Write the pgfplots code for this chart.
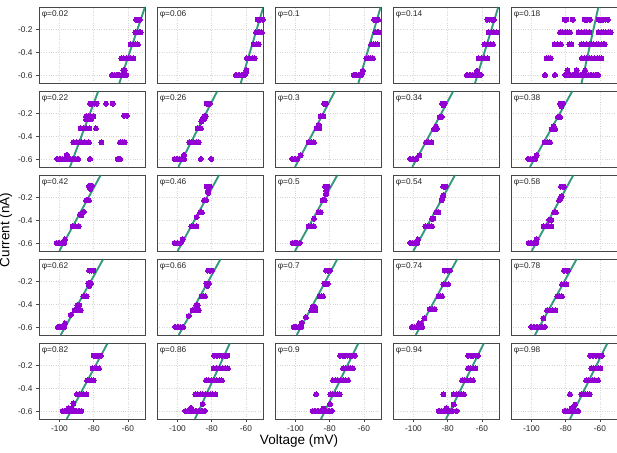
\documentclass[border=0pt]{standalone}
\usepackage{fontspec}
\setmainfont{Liberation Sans}
\usepackage{pgfplots}
\pgfplotsset{compat=1.18}
\definecolor{dotpurple}{RGB}{146,0,212}
\definecolor{fitgreen}{RGB}{16,136,104}
\pgfplotsset{
  panel/.style={
    width=106pt, height=76pt, scale only axis,
    anchor=north west,
    xmin=-112, xmax=-50, ymin=-0.665, ymax=-0.005,
    xtick={-100,-80,-60}, ytick={-0.6,-0.4,-0.2},
    xticklabels={}, yticklabels={},
    xtick pos=lower, ytick pos=left,
    tick align=outside, major tick length=3pt,
    xtick style={draw=none}, ytick style={draw=none},
    grid=major, grid style={dotted, color=black!16, line width=0.7pt},
    axis line style={color=black!72, line width=0.9pt},
    tick label style={font=\fontsize{8.3}{9}\selectfont, text=black!85},
  },
  leftcol/.style={yticklabels={-0.6,-0.4,-0.2}, ytick style={draw=black!72, line width=0.6pt}},
  bottomrow/.style={xticklabels={-100,-80,-60}, xtick style={draw=black!72, line width=0.6pt}},
  dots/.style={only marks, color=dotpurple, mark=*, mark size=2.5pt, mark options={draw=dotpurple, fill=dotpurple, line width=0pt}},
  fitline/.style={no marks, color=fitgreen, line width=1.9pt, opacity=0.85},
}
\newcommand{\panel}[6]{%
\begin{axis}[panel, at={(39pt+118pt*#1, 445pt-84pt*#2)}, #4]
\addplot[dots] coordinates {#5};
\addplot[fitline] coordinates {#6};
\node[anchor=north west, inner sep=0pt, font=\fontsize{8.3}{9}\selectfont, text=black!85] at (rel axis cs:0.025,0.95) {φ=#3};
\end{axis}}
\begin{document}
\begin{tikzpicture}
\useasboundingbox (0pt,0pt) rectangle (617pt,452pt);
% ---------------- row 0
\panel{0}{0}{0.02}{leftcol}{
(-55.1,-0.115)(-54.1,-0.115)(-53.1,-0.115)
(-55.6,-0.225)(-54.6,-0.225)(-53.5,-0.225)(-52.5,-0.225)
(-58.4,-0.33)(-57,-0.33)(-55.5,-0.33)(-54.1,-0.33)
(-63.8,-0.45)(-62.4,-0.45)(-61,-0.45)(-59.6,-0.45)(-58.2,-0.45)(-56.8,-0.45)
(-69.3,-0.595)(-67.9,-0.595)(-66.5,-0.595)(-65.1,-0.595)(-63.7,-0.595)(-62.3,-0.595)(-60.9,-0.595)
(-62.7,-0.555)(-61.9,-0.555)(-62.3,-0.575)
}{(-50,-0.005)(-65,-0.665)}
\panel{1}{0}{0.06}{}{
(-53.1,-0.115)(-51.6,-0.115)(-50.2,-0.115)
(-54.1,-0.225)(-52.9,-0.225)(-51.8,-0.225)(-50.6,-0.225)
(-55.5,-0.33)(-54,-0.33)(-52.5,-0.33)
(-59.4,-0.45)(-57.9,-0.45)(-56.4,-0.45)(-54.9,-0.45)
(-65.8,-0.595)(-64.1,-0.595)(-62.4,-0.595)(-60.7,-0.595)
(-59.7,-0.555)(-60,-0.575)
}{(-49.8,-0.005)(-63,-0.665)}
\panel{2}{0}{0.1}{}{
(-53.9,-0.115)(-52.8,-0.115)(-51.7,-0.115)
(-53.3,-0.225)(-52.3,-0.225)(-51.4,-0.225)
(-55.8,-0.33)(-54.6,-0.33)(-53.3,-0.33)(-52.1,-0.33)
(-58.6,-0.45)(-57.3,-0.45)(-56,-0.45)(-54.7,-0.45)
(-66,-0.595)(-64.5,-0.595)(-63,-0.595)(-61.5,-0.595)
(-60.7,-0.56)(-61,-0.575)
}{(-50.2,-0.005)(-63.2,-0.665)}
\panel{3}{0}{0.14}{}{
(-56.8,-0.115)(-55.5,-0.115)(-54.2,-0.115)(-52.9,-0.115)
(-56,-0.225)(-54.5,-0.225)(-53,-0.225)(-51.5,-0.225)
(-58.6,-0.33)(-56.9,-0.33)(-55.2,-0.33)(-53.5,-0.33)
(-61.9,-0.45)(-60.2,-0.45)(-58.5,-0.45)(-56.8,-0.45)
(-68.7,-0.595)(-67.1,-0.595)(-65.5,-0.595)(-63.9,-0.595)(-62.3,-0.595)(-60.7,-0.595)
(-62.7,-0.56)
}{(-50.4,-0.005)(-64,-0.665)}
\panel{4}{0}{0.18}{}{
(-80.6,-0.115)(-79.6,-0.115)(-75.9,-0.115)(-68.9,-0.115)(-67.4,-0.115)(-65.8,-0.115)
(-60.7,-0.115)(-59.4,-0.115)(-58,-0.115)(-56.7,-0.115)(-55.3,-0.115)
(-83.3,-0.225)(-81.9,-0.225)(-80.4,-0.225)(-78.9,-0.225)(-77.5,-0.225)
(-72.4,-0.225)(-70.9,-0.225)(-69.3,-0.225)(-67.8,-0.225)(-66.2,-0.225)
(-60.7,-0.225)(-59.3,-0.225)(-57.9,-0.225)(-56.5,-0.225)(-55.1,-0.225)(-53.7,-0.225)
(-86.5,-0.33)(-84.7,-0.33)(-82.9,-0.33)(-77.9,-0.33)(-76.7,-0.33)
(-70.9,-0.33)(-69.5,-0.33)(-68.1,-0.33)(-66.3,-0.33)(-64.9,-0.33)(-63.5,-0.33)(-62.1,-0.33)(-60.7,-0.33)(-59.3,-0.33)(-57.9,-0.33)(-57.2,-0.33)
(-91.1,-0.45)(-90,-0.45)(-88.8,-0.45)
(-70.5,-0.45)(-69,-0.45)(-67.6,-0.45)(-66.1,-0.45)(-64.7,-0.45)(-63.2,-0.45)(-61.7,-0.45)(-60.2,-0.45)(-59.2,-0.45)
(-92.1,-0.595)(-86.3,-0.595)
(-80.2,-0.595)(-78.7,-0.595)(-77.2,-0.595)(-75.7,-0.595)(-74.2,-0.595)(-72.7,-0.595)(-71.2,-0.595)
(-69.7,-0.595)(-68.2,-0.595)(-66.7,-0.595)(-65.2,-0.595)(-63.7,-0.595)(-62.1,-0.595)(-61.1,-0.595)
(-79,-0.555)(-73.6,-0.555)(-68.7,-0.555)
}{(-60.9,-0.005)(-70.7,-0.665)}
% ---------------- row 1
\panel{0}{1}{0.22}{leftcol}{
(-82.2,-0.115)(-80.9,-0.115)(-79.6,-0.115)(-78.3,-0.115)(-72.8,-0.115)(-68.9,-0.115)
(-84.5,-0.225)(-83.1,-0.225)(-81.6,-0.225)(-80.2,-0.225)(-62.1,-0.22)(-60.7,-0.22)
(-84.5,-0.25)(-83,-0.25)(-81.5,-0.25)
(-87.6,-0.33)(-86,-0.33)(-84.3,-0.33)(-82.6,-0.33)(-78.7,-0.33)
(-91.9,-0.45)(-90.2,-0.45)(-88.6,-0.45)(-86.9,-0.45)(-85.3,-0.45)(-82.8,-0.45)(-75.5,-0.45)
(-64.6,-0.45)(-63.3,-0.45)(-61.9,-0.45)
(-101.3,-0.595)(-99.8,-0.595)(-98.3,-0.595)(-96.8,-0.595)(-95.2,-0.595)(-93.7,-0.595)(-92.2,-0.595)(-90.7,-0.595)(-89.2,-0.595)
(-82.2,-0.595)(-66,-0.595)(-64.6,-0.595)
(-95.8,-0.56)
}{(-77.3,-0.005)(-93.9,-0.665)}
\panel{1}{1}{0.26}{}{
(-82.9,-0.115)(-81.9,-0.115)(-81,-0.115)
(-84.5,-0.225)(-83.5,-0.225)(-85.5,-0.25)(-84.5,-0.25)(-86,-0.27)
(-88.2,-0.33)(-87.2,-0.33)(-86.3,-0.33)
(-93.1,-0.45)(-91.7,-0.45)(-90.4,-0.45)(-89,-0.45)(-87.6,-0.45)
(-101.7,-0.595)(-100.3,-0.595)(-98.9,-0.595)(-97.6,-0.595)(-96.2,-0.595)(-86.3,-0.595)(-80.2,-0.595)
(-96.2,-0.56)
}{(-76.7,-0.005)(-99.5,-0.665)}
\panel{2}{1}{0.3}{}{
(-83.3,-0.115)(-82.2,-0.115)
(-85.3,-0.225)(-84.5,-0.225)(-83.7,-0.225)
(-87.6,-0.33)(-86.1,-0.33)(-86.8,-0.315)(-86.5,-0.30)
(-92.3,-0.45)(-90.8,-0.45)(-89.2,-0.45)
(-102,-0.595)(-100.5,-0.595)(-98.9,-0.595)
(-97,-0.565)
}{(-76.9,-0.005)(-100.3,-0.665)}
\panel{3}{1}{0.34}{}{
(-83.3,-0.115)(-82.5,-0.115)(-81.8,-0.115)(-82.5,-0.13)
(-84.7,-0.23)(-83.5,-0.23)
(-88,-0.335)(-87.2,-0.335)(-86.5,-0.335)(-86.8,-0.315)
(-92.7,-0.45)(-91.1,-0.45)(-89.6,-0.45)
(-101.9,-0.595)(-100.2,-0.595)(-98.4,-0.595)
(-96.6,-0.565)
}{(-76.7,-0.005)(-100.7,-0.665)}
\panel{4}{1}{0.38}{}{
(-83.3,-0.115)(-82.5,-0.115)(-81.8,-0.115)(-82.5,-0.14)
(-84.5,-0.23)(-83.3,-0.23)
(-88.2,-0.335)(-87.2,-0.335)(-86.3,-0.335)(-87,-0.31)
(-92.3,-0.45)(-90.8,-0.45)(-89.2,-0.45)
(-102,-0.595)(-100.6,-0.595)(-99.2,-0.595)(-97.8,-0.595)
(-97,-0.565)
}{(-76.1,-0.005)(-100.9,-0.665)}
% ---------------- row 2
\panel{0}{2}{0.42}{leftcol}{
(-82.8,-0.10)(-82,-0.10)(-81.2,-0.10)(-82,-0.125)
(-84.5,-0.225)(-83.6,-0.225)(-82.8,-0.225)
(-88,-0.345)(-86.8,-0.335)(-85.7,-0.325)(-87.2,-0.355)
(-92.3,-0.45)(-90.6,-0.45)(-88.8,-0.45)
(-101.7,-0.595)(-100.3,-0.595)(-98.8,-0.595)(-97.4,-0.595)
(-96.8,-0.565)
}{(-75.9,-0.005)(-100.1,-0.665)}
\panel{1}{2}{0.46}{}{
(-82.9,-0.105)(-81.9,-0.105)(-81,-0.105)(-82,-0.14)(-82,-0.16)
(-84.5,-0.225)(-83.3,-0.225)
(-86.8,-0.33)(-85.7,-0.33)(-88.8,-0.37)
(-91.9,-0.45)(-90.4,-0.45)(-89,-0.45)
(-101.7,-0.595)(-100,-0.595)(-98.2,-0.595)
(-97,-0.565)
}{(-75.7,-0.005)(-99.9,-0.665)}
\panel{2}{2}{0.5}{}{
(-82.8,-0.105)(-82,-0.105)(-81.2,-0.105)(-82,-0.14)(-82.2,-0.17)
(-84.1,-0.225)(-83.5,-0.225)(-82.9,-0.225)
(-86.5,-0.33)(-85.3,-0.33)
(-89.2,-0.385)
(-92.3,-0.45)(-90.8,-0.45)(-89.2,-0.45)
(-101.7,-0.595)(-100.3,-0.595)(-99,-0.595)(-97.6,-0.595)
}{(-75.5,-0.005)(-100.3,-0.665)}
\panel{3}{2}{0.54}{}{
(-82.6,-0.105)(-81.9,-0.105)(-81.2,-0.105)
(-83.5,-0.225)(-83,-0.20)(-82.6,-0.18)
(-86.8,-0.33)(-85.5,-0.33)
(-89.2,-0.385)(-88.4,-0.385)
(-93.1,-0.45)(-91.8,-0.45)(-90.5,-0.45)(-89.2,-0.45)
(-102,-0.595)(-100.6,-0.595)(-99.2,-0.595)(-97.8,-0.595)
(-97.4,-0.565)
}{(-75.7,-0.005)(-100.1,-0.665)}
\panel{4}{2}{0.58}{}{
(-82.8,-0.105)(-81.9,-0.105)(-81,-0.105)
(-83.9,-0.225)(-83.2,-0.21)(-82.4,-0.19)
(-86.8,-0.33)(-85.7,-0.33)
(-89.6,-0.395)(-88.4,-0.395)
(-92.9,-0.45)(-91.4,-0.45)(-89.9,-0.45)(-88.4,-0.45)
(-101.7,-0.595)(-100.2,-0.595)(-98.7,-0.595)(-97.2,-0.595)
(-97,-0.565)
}{(-75.5,-0.005)(-99.9,-0.665)}
% ---------------- row 3
\panel{0}{3}{0.62}{leftcol}{
(-82.6,-0.105)(-81.4,-0.105)(-80.2,-0.105)
(-83.1,-0.215)(-82.3,-0.215)(-81.6,-0.215)(-82.5,-0.24)
(-86.1,-0.33)(-85.1,-0.33)(-84.1,-0.33)
(-89.6,-0.405)(-88.4,-0.405)
(-91.1,-0.45)(-89.9,-0.45)(-88.8,-0.45)(-87.6,-0.45)
(-93.5,-0.49)
(-100.9,-0.595)(-99.7,-0.595)(-98.6,-0.595)(-97.4,-0.595)
(-96.8,-0.565)
}{(-74.4,-0.005)(-99.3,-0.665)}
\panel{1}{3}{0.66}{}{
(-82.2,-0.105)(-81,-0.105)(-79.8,-0.105)
(-83.1,-0.22)(-82.3,-0.22)(-81.6,-0.22)(-82.5,-0.24)
(-85.9,-0.33)(-84.9,-0.33)(-83.9,-0.33)
(-89,-0.405)(-88.2,-0.405)
(-91.1,-0.45)(-89.9,-0.45)(-88.8,-0.45)(-87.6,-0.45)
(-93.5,-0.50)
(-101.3,-0.595)(-99.8,-0.595)(-98.3,-0.595)(-96.8,-0.595)
}{(-74.8,-0.005)(-99.3,-0.665)}
\panel{2}{3}{0.7}{}{
(-82.2,-0.105)(-81,-0.105)(-79.8,-0.105)
(-83.1,-0.22)(-82.1,-0.22)(-81.2,-0.22)
(-85.9,-0.33)(-84.9,-0.33)(-83.9,-0.33)
(-90,-0.42)(-88.6,-0.42)
(-90.7,-0.45)(-89.5,-0.45)(-88.4,-0.45)
(-93.9,-0.51)(-96.4,-0.56)
(-101.1,-0.595)(-99.6,-0.595)(-98.1,-0.595)(-96.6,-0.595)
}{(-75.5,-0.005)(-99.3,-0.665)}
\panel{3}{3}{0.74}{}{
(-81.8,-0.105)(-80.2,-0.105)(-78.7,-0.105)
(-82.6,-0.225)(-81.2,-0.225)(-79.8,-0.225)
(-85.3,-0.33)(-84.3,-0.33)(-83.3,-0.33)
(-90.5,-0.44)(-89.1,-0.44)(-87.6,-0.44)
(-93.7,-0.52)
(-100.9,-0.595)(-99.4,-0.595)(-97.9,-0.595)(-96.5,-0.595)(-95,-0.595)
(-96.8,-0.565)(-95.6,-0.565)
}{(-74.4,-0.005)(-98.7,-0.665)}
\panel{4}{3}{0.78}{}{
(-81,-0.105)(-79.8,-0.105)(-78.7,-0.105)
(-82.2,-0.225)(-80.9,-0.225)(-79.6,-0.225)
(-84.9,-0.33)(-83.5,-0.33)(-82.2,-0.33)
(-90.9,-0.45)(-89.3,-0.45)(-87.7,-0.45)(-86.1,-0.45)
(-93.1,-0.52)
(-100.1,-0.595)(-98.5,-0.595)(-96.9,-0.595)(-95.4,-0.595)(-93.8,-0.595)(-92.3,-0.595)
}{(-73.6,-0.005)(-98,-0.665)}
% ---------------- row 4
\panel{0}{4}{0.82}{leftcol,bottomrow}{
(-80,-0.115)(-78.6,-0.115)(-77.3,-0.115)(-75.9,-0.115)
(-80.6,-0.225)(-79.4,-0.225)(-78.1,-0.225)(-76.9,-0.225)
(-83.9,-0.33)(-82.6,-0.33)(-81.3,-0.33)(-80,-0.33)
(-89.8,-0.45)(-88.4,-0.45)(-87.1,-0.45)(-85.7,-0.45)(-84.3,-0.45)
(-91.9,-0.53)
(-98.2,-0.595)(-96.6,-0.595)(-95.1,-0.595)(-93.5,-0.595)(-91.9,-0.595)(-90.3,-0.595)(-88.8,-0.595)(-87.2,-0.595)
(-94.8,-0.57)(-92.9,-0.57)
}{(-71.8,-0.005)(-95.8,-0.665)}
\panel{1}{4}{0.86}{bottomrow}{
(-78.5,-0.115)(-77,-0.115)(-75.5,-0.115)(-74,-0.115)(-72.4,-0.115)(-70.9,-0.115)
(-78.9,-0.225)(-77.2,-0.225)(-75.5,-0.225)(-73.9,-0.225)(-72.2,-0.225)(-70.5,-0.225)
(-83.3,-0.33)(-81.8,-0.33)(-80.2,-0.33)(-78.7,-0.33)(-77.1,-0.33)(-75.6,-0.33)(-74,-0.33)
(-89.6,-0.45)(-88.1,-0.45)(-86.6,-0.45)(-85.2,-0.45)(-83.7,-0.45)(-82.3,-0.45)(-80.8,-0.45)(-79.4,-0.45)(-77.9,-0.45)
(-85.3,-0.535)
(-95.4,-0.595)(-93.8,-0.595)(-92.2,-0.595)(-90.6,-0.595)(-89,-0.595)(-87.3,-0.595)(-85.7,-0.595)(-84.1,-0.595)
(-92.1,-0.57)
}{(-69.3,-0.005)(-89.8,-0.665)}
\panel{2}{4}{0.9}{bottomrow}{
(-73.8,-0.115)(-72.4,-0.115)(-71,-0.115)(-69.6,-0.115)(-68.2,-0.115)(-66.8,-0.115)(-65.4,-0.115)
(-72.2,-0.225)(-70.8,-0.225)(-69.3,-0.225)(-67.9,-0.225)(-66.4,-0.225)
(-78.1,-0.33)(-76.6,-0.33)(-75.2,-0.33)(-73.7,-0.33)(-72.2,-0.33)(-70.8,-0.33)(-69.3,-0.33)
(-88,-0.45)(-79.6,-0.45)(-78.2,-0.45)(-76.9,-0.45)(-75.5,-0.45)(-74.2,-0.45)
(-79.8,-0.535)
(-90,-0.595)(-88.4,-0.595)(-86.8,-0.595)(-85.2,-0.595)(-83.5,-0.595)(-81.9,-0.595)(-80.3,-0.595)(-78.7,-0.595)
(-83.7,-0.575)
}{(-63.2,-0.005)(-85.1,-0.665)}
\panel{3}{4}{0.94}{bottomrow}{
(-68.1,-0.115)(-66.6,-0.115)(-65.2,-0.115)(-63.7,-0.115)(-62.3,-0.115)
(-68.1,-0.225)(-66.7,-0.225)(-65.2,-0.225)(-63.8,-0.225)
(-71.6,-0.33)(-70,-0.33)(-68.4,-0.33)(-66.8,-0.33)(-65.2,-0.33)
(-82.6,-0.45)(-76.5,-0.45)(-75,-0.45)(-73.5,-0.45)(-72,-0.45)(-70.5,-0.45)
(-76.5,-0.54)
(-85.3,-0.595)(-83.7,-0.595)(-82.2,-0.595)(-80.6,-0.595)(-79.1,-0.595)(-77.5,-0.595)(-74.8,-0.595)
(-80.6,-0.57)
}{(-58.8,-0.005)(-81,-0.665)}
\panel{4}{4}{0.98}{bottomrow}{
(-65.6,-0.115)(-63.9,-0.115)(-62.2,-0.115)(-60.5,-0.115)(-58.8,-0.115)
(-65,-0.225)(-63.7,-0.225)(-62.4,-0.225)(-61,-0.225)(-59.7,-0.225)
(-68.1,-0.33)(-66.4,-0.33)(-64.6,-0.33)(-62.9,-0.33)(-61.1,-0.33)
(-77.5,-0.45)(-70.9,-0.45)(-69.7,-0.45)(-68.4,-0.45)(-67.2,-0.45)(-66,-0.45)
(-74.6,-0.54)
(-80.6,-0.595)(-79,-0.595)(-77.5,-0.595)(-75.9,-0.595)(-74.4,-0.595)(-72.8,-0.595)
(-76.5,-0.57)
}{(-55.6,-0.005)(-77.5,-0.665)}
% ---------------- axis titles
\node[rotate=90, inner sep=0pt, font=\fontsize{13.5}{15}\selectfont] at (6pt,222pt) {Current (nA)};
\node[anchor=base, inner sep=0pt, font=\fontsize{13.5}{15}\selectfont] at (299pt,8pt) {Voltage (mV)};
\end{tikzpicture}
\end{document}
